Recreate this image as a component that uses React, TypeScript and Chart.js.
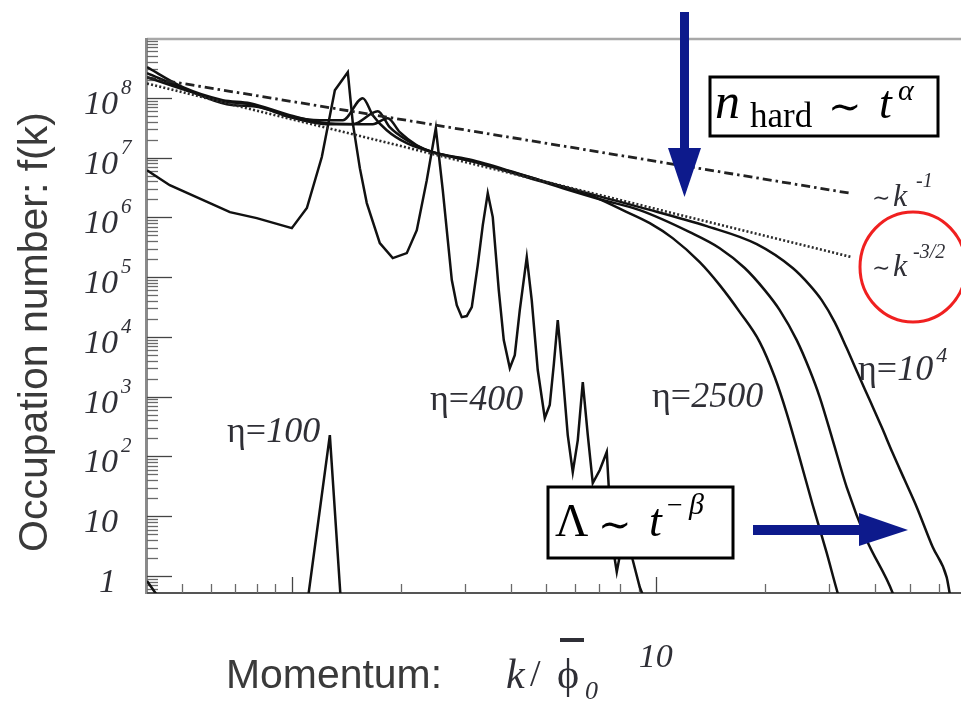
import React, { useEffect, useRef } from "react";
import { Chart, registerables } from "chart.js";

Chart.register(...registerables);

// ---------- axis ranges ----------
const X_MIN = 0.4;
const X_MAX = 69;
const Y_MIN = 0.52;
const Y_MAX = 1e9;

// ---------- tick labels ----------
const yTickValues = [1, 10, 1e2, 1e3, 1e4, 1e5, 1e6, 1e7, 1e8];
const yTickBases = ["1", "10", "10", "10", "10", "10", "10", "10", "10"];
const yTickExps = ["", "", "2", "3", "4", "5", "6", "7", "8"];
const xTickValues = [10];
const xTickLabels = ["10"];

// ---------- guide power laws ----------
const slope1K = [0.4, 34.1];
const slope1F = [2.17e8, 2.54e6];
const slope32K = [0.4, 34.5];
const slope32F = [1.73e8, 2.16e5];

// ---------- spectra ----------
const eta100K = [0.4, 0.45, 1.106, 1.272, 1.363, 2.0];
const eta100F = [0.825, 0.3, 0.397, 228, 0.397, 0.1];

const eta400K = [0.4, 0.462, 0.676, 0.801, 1.0, 1.1, 1.209, 1.313, 1.425, 1.471, 1.538, 1.607, 1.745, 1.894, 2.07, 2.205, 2.349, 2.487, 2.599, 2.683, 2.752, 2.84, 2.931, 3.025, 3.123, 3.243, 3.348, 3.455, 3.566, 3.704, 3.823, 3.972, 4.099, 4.231, 4.422, 4.563, 4.74, 4.956, 5.114, 5.245, 5.38, 5.554, 5.731, 5.916, 6.107, 6.303, 6.506, 6.714, 7.02, 7.336, 7.571, 7.815, 8.116, 8.377, 8.646, 9.036, 9.328];
const eta400F = [6.15e6, 3.45e6, 1.22e6, 9.7e5, 6.6e5, 1.43e6, 1.02e7, 1.34e8, 2.68e8, 3.76e7, 6.65e6, 1.73e6, 3.71e5, 2.08e5, 2.52e5, 6.11e5, 4.19e6, 3.1e7, 2.85e6, 4.16e5, 8.91e4, 3.4e4, 2.14e4, 2.23e4, 3.15e4, 1.59e5, 7.41e5, 2.54e6, 1.01e6, 6.06e4, 8.84e3, 3.01e3, 4.96e3, 2.81e4, 2.16e5, 4.12e4, 2.79e3, 439, 724, 3.38e3, 1.91e4, 2.3e3, 228, 54.8, 188, 1.75e3, 228, 35.9, 59.3, 119, 4.0, 1.17, 4.0, 4.85, 1.85, 0.655, 0.4];

const eta2500K = [0.4, 0.502, 0.646, 0.767, 0.87, 0.987, 1.194, 1.381, 1.567, 1.669, 1.823, 2.07, 2.44, 3.143, 4.801, 6.59, 8.116, 9.63, 11.13, 13.21, 14.99, 17.02, 19.31, 21.23, 22.9, 24.86, 27.0, 29.5, 31.62, 33.05];
const eta2500F = [2.21e8, 1.39e8, 8.77e7, 7.82e7, 6.21e7, 4.92e7, 4.22e7, 4.22e7, 9.85e7, 5.12e7, 2.87e7, 1.74e7, 1.23e7, 8.71e6, 4.19e6, 2.35e6, 1.32e6, 8.0e5, 4.49e5, 1.78e5, 7.35e4, 2.6e4, 8.19e3, 2.13e3, 532, 94, 15.4, 2.43, 0.52, 0.223];

const eta5000K = [0.4, 0.502, 0.663, 0.817, 0.987, 1.248, 1.471, 1.723, 1.858, 2.07, 2.44, 3.143, 4.801, 7.02, 9.036, 12.4, 14.99, 17.56, 19.93, 21.91, 24.4, 26.49, 28.22, 30.64, 33.47, 37.99, 44.78, 46.81];
const eta5000F = [2.58e8, 1.45e8, 7.82e7, 6.96e7, 4.74e7, 3.62e7, 3.62e7, 5.97e7, 3.22e7, 1.95e7, 1.23e7, 8.6e6, 4.03e6, 2.01e6, 1.32e6, 5.66e5, 3.05e5, 1.42e5, 6.06e4, 2.81e4, 8.84e3, 2.79e3, 985, 188, 30.8, 4.0, 0.52, 0.223];

const eta1e4K = [0.4, 0.502, 0.646, 0.767, 0.987, 1.248, 1.669, 1.835, 1.98, 2.205, 2.44, 3.143, 4.801, 9.036, 13.81, 18.95, 23.79, 26.49, 28.58, 31.02, 33.47, 35.88, 38.72, 41.77, 44.78, 48.32, 52.12, 57.68, 63.01, 64.21, 65.46];
const eta1e4F = [3.25e8, 1.5e8, 9.12e7, 8.12e7, 5.12e7, 3.76e7, 3.62e7, 4.56e7, 2.66e7, 1.61e7, 1.23e7, 9.05e6, 4.19e6, 1.48e6, 7.12e5, 3.56e5, 1.42e5, 7.35e4, 4.12e4, 1.77e4, 6.5e3, 2.48e3, 877, 310, 114, 40.3, 14.3, 3.05, 0.96, 0.52, 0.27];

const SERIF = '"Liberation Serif","Times New Roman",serif';
const SANS = '"Liberation Sans",Arial,sans-serif';
const MATH = '"DejaVu Serif","Liberation Serif",serif';
const INK = "#2f2f36";
const BLUE = "#0d1a8c";

const mk = (xs: number[], ys: number[]) => xs.map((x, i) => ({ x, y: ys[i] }));

function put(ctx: CanvasRenderingContext2D, t: string, font: string, x: number, y: number, maxW?: number) {
  ctx.font = font;
  if (maxW) ctx.fillText(t, x, y, maxW);
  else ctx.fillText(t, x, y);
  return x + ctx.measureText(t).width;
}

const decor = {
  id: "decor",
  beforeDatasetsDraw(chart: any) {
    const { ctx, chartArea: a, scales } = chart;
    const xs = scales.x;
    const ys = scales.y;
    ctx.save();
    // frame
    ctx.strokeStyle = "#a8a8a8";
    ctx.lineWidth = 2.5;
    ctx.beginPath();
    ctx.moveTo(a.left, a.top + 1);
    ctx.lineTo(a.right, a.top + 1);
    ctx.stroke();
    ctx.strokeStyle = "#8a8a8a";
    ctx.lineWidth = 3;
    ctx.beginPath();
    ctx.moveTo(a.left - 0.5, a.top);
    ctx.lineTo(a.left - 0.5, a.bottom + 1);
    ctx.stroke();
    ctx.strokeStyle = "#555";
    ctx.lineWidth = 2;
    ctx.beginPath();
    ctx.moveTo(a.left, a.bottom);
    ctx.lineTo(a.right, a.bottom);
    ctx.stroke();
    // y ticks (inward)
    ctx.lineWidth = 1.3;
    for (let e = -1; e <= 8; e++) {
      for (let m = 1; m <= 9; m++) {
        const v = m * Math.pow(10, e);
        if (v < Y_MIN || v > Y_MAX) continue;
        const py = Math.round(ys.getPixelForValue(v)) + 0.5;
        const len = m === 1 ? 25 : 11;
        ctx.strokeStyle = m === 1 ? "#444" : "#6a6a6a";
        ctx.beginPath();
        ctx.moveTo(a.left, py);
        ctx.lineTo(a.left + len, py);
        ctx.stroke();
      }
    }
    // x ticks (inward)
    for (let e = -1; e <= 1; e++) {
      for (let m = 1; m <= 9; m++) {
        const v = m * Math.pow(10, e);
        const px = Math.round(xs.getPixelForValue(v)) + 0.5;
        if (px <= a.left + 2 || px >= a.right) continue;
        const len = m === 1 ? 16 : 9;
        ctx.strokeStyle = m === 1 ? "#444" : "#6a6a6a";
        ctx.beginPath();
        ctx.moveTo(px, a.bottom);
        ctx.lineTo(px, a.bottom - len);
        ctx.stroke();
      }
    }
    ctx.restore();
  },
  afterDatasetsDraw(chart: any) {
    const { ctx, scales } = chart;
    const xs = scales.x;
    const ys = scales.y;
    ctx.save();
    ctx.textAlign = "left";
    ctx.textBaseline = "alphabetic";
    ctx.fillStyle = INK;

    // y tick labels
    yTickValues.forEach((v, i) => {
      const py = ys.getPixelForValue(v);
      ctx.textAlign = "right";
      put(ctx, yTickBases[i], `italic 34px ${SERIF}`, yTickBases[i].length === 1 ? 116 : 118, py + 16);
      ctx.textAlign = "left";
      if (yTickExps[i]) put(ctx, yTickExps[i], `italic 21px ${SERIF}`, 121, py - 4);
    });
    // x tick labels
    xTickValues.forEach((v, i) => {
      const px = xs.getPixelForValue(v);
      ctx.textAlign = "center";
      put(ctx, xTickLabels[i], `italic 34px ${SERIF}`, px, 667);
    });
    ctx.textAlign = "left";

    // axis titles
    ctx.fillStyle = "#3a3a3a";
    put(ctx, "Momentum:", `41px ${SANS}`, 226, 688, 216);
    ctx.save();
    ctx.translate(46.5, 332);
    ctx.rotate(-Math.PI / 2);
    ctx.textAlign = "center";
    put(ctx, "Occupation number: f(k)", `41px ${SANS}`, 0, 0);
    ctx.restore();
    ctx.fillStyle = INK;
    put(ctx, "k", `italic 42px ${SERIF}`, 506, 688);
    put(ctx, "/", `38px ${SERIF}`, 530, 686);
    put(ctx, "ϕ", `42px ${SERIF}`, 557, 688);
    ctx.fillRect(560, 638, 24, 4);
    put(ctx, "0", `italic 26px ${SERIF}`, 585, 699);

    // curve labels
    const eta = (x: number, y: number, num: string, sup?: string) => {
      let cx = put(ctx, "η", `36px ${SERIF}`, x, y);
      cx = put(ctx, "=", `36px ${SERIF}`, cx, y);
      cx = put(ctx, num, `italic 36px ${SERIF}`, cx, y);
      if (sup) put(ctx, sup, `italic 22px ${SERIF}`, cx + 3, y - 18);
    };
    eta(227, 442, "100");
    eta(430, 410, "400");
    eta(652, 407, "2500");
    eta(858, 380, "10", "4");

    // power-law labels
    put(ctx, "∼", `22px ${MATH}`, 872, 205);
    put(ctx, "k", `italic 32px ${SERIF}`, 893, 206);
    put(ctx, "-1", `italic 20px ${SERIF}`, 916, 187);
    put(ctx, "∼", `22px ${MATH}`, 872, 275);
    put(ctx, "k", `italic 32px ${SERIF}`, 893, 276);
    put(ctx, "-3/2", `italic 20px ${SERIF}`, 913, 258);

    // red circle
    ctx.strokeStyle = "#f02020";
    ctx.lineWidth = 3;
    ctx.beginPath();
    ctx.ellipse(913, 267, 53, 55, 0, 0, Math.PI * 2);
    ctx.stroke();

    // blue arrows
    ctx.fillStyle = BLUE;
    ctx.fillRect(680, 12, 9, 140);
    ctx.beginPath();
    ctx.moveTo(668, 148);
    ctx.lineTo(701, 148);
    ctx.lineTo(684.5, 197);
    ctx.closePath();
    ctx.fill();
    ctx.fillRect(753, 525, 110, 10);
    ctx.beginPath();
    ctx.moveTo(859, 513);
    ctx.lineTo(908, 530);
    ctx.lineTo(859, 546);
    ctx.closePath();
    ctx.fill();

    // boxes
    ctx.fillStyle = "#fff";
    ctx.strokeStyle = "#000";
    ctx.lineWidth = 3;
    ctx.fillRect(710, 77, 228, 59);
    ctx.strokeRect(710, 77, 228, 59);
    ctx.fillRect(548, 487, 185, 71);
    ctx.strokeRect(548, 487, 185, 71);

    ctx.fillStyle = "#000";
    put(ctx, "n", `italic 50px ${SERIF}`, 715, 118);
    put(ctx, "hard", `35px ${SERIF}`, 750, 127);
    put(ctx, "∼", `40px ${MATH}`, 828, 120);
    put(ctx, "t", `italic 46px ${SERIF}`, 879, 118);
    put(ctx, "α", `italic 30px ${SERIF}`, 898, 100);

    put(ctx, "Λ", `46px ${SERIF}`, 555, 536);
    put(ctx, "∼", `40px ${MATH}`, 598, 538);
    put(ctx, "t", `italic 46px ${SERIF}`, 649, 536);
    put(ctx, "−", `28px ${SERIF}`, 667, 514);
    put(ctx, "β", `italic 30px ${SERIF}`, 689, 514);

    ctx.restore();
  },
};

export default function App() {
  const ref = useRef<HTMLCanvasElement>(null);
  useEffect(() => {
    const line = (label: string, xs: number[], ys: number[], extra: any = {}) => ({
      label,
      data: mk(xs, ys),
      borderColor: "#111",
      borderWidth: 2.5,
      pointRadius: 0,
      tension: 0,
      fill: false,
      ...extra,
    });
    const chart = new Chart(ref.current as HTMLCanvasElement, {
      type: "line",
      data: {
        datasets: [
          line("~k^-1", slope1K, slope1F, { borderColor: "#222", borderWidth: 2.8, borderDash: [9, 4, 2.5, 4] }),
          line("~k^-3/2", slope32K, slope32F, { borderColor: "#2a2a2a", borderWidth: 2.6, borderDash: [2, 2.2] }),
          line("η=100", eta100K, eta100F),
          line("η=400", eta400K, eta400F),
          line("η=2500", eta2500K, eta2500F, { cubicInterpolationMode: "monotone" }),
          line("η=5000", eta5000K, eta5000F, { cubicInterpolationMode: "monotone" }),
          line("η=10^4", eta1e4K, eta1e4F, { cubicInterpolationMode: "monotone" }),
        ],
      },
      options: {
        responsive: false,
        maintainAspectRatio: false,
        animation: false,
        layout: { padding: { left: 147, right: 0, top: 38, bottom: 109 } },
        plugins: { legend: { display: false }, tooltip: { enabled: false } },
        scales: {
          x: { type: "logarithmic", min: X_MIN, max: X_MAX, display: false },
          y: { type: "logarithmic", min: Y_MIN, max: Y_MAX, display: false },
        },
      },
      plugins: [decor],
    } as any);
    return () => chart.destroy();
  }, []);
  return (
    <div style={{ position: "fixed", left: 0, top: 0, width: 961, height: 702, background: "#fff", overflow: "hidden" }}>
      <canvas ref={ref} width={961} height={702} style={{ width: 961, height: 702, display: "block" }} />
    </div>
  );
}
